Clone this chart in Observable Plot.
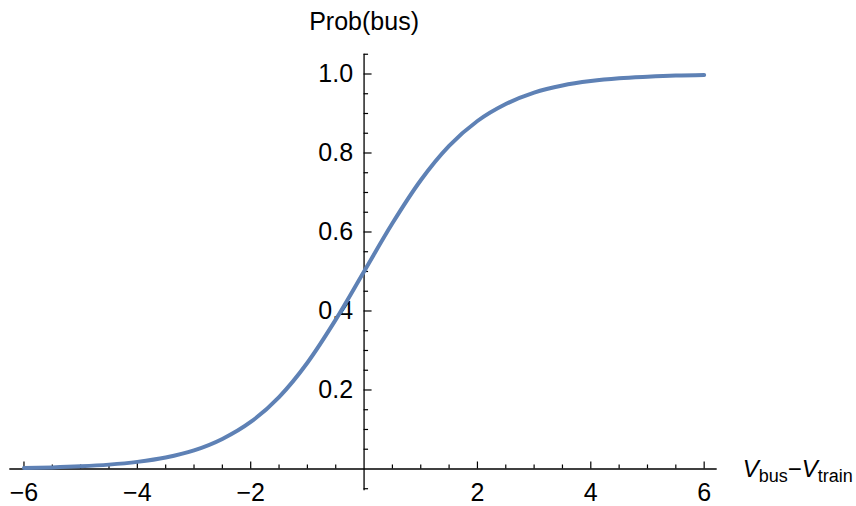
<!DOCTYPE html>
<html>
<head>
<meta charset="utf-8">
<script src="https://cdn.jsdelivr.net/npm/d3@7"></script>
<script src="https://cdn.jsdelivr.net/npm/@observablehq/plot@0.6"></script>
<style>
  html, body { margin: 0; padding: 0; background: #fff; }
  #chart { width: 856px; height: 506px; }
</style>
</head>
<body>
<div id="chart"></div>
<script>
// Utility difference V_bus - V_train
const vDiff = [-6, -5.5, -5, -4.5, -4, -3.5, -3, -2.5, -2, -1.5, -1, -0.5, 0,
               0.5, 1, 1.5, 2, 2.5, 3, 3.5, 4, 4.5, 5, 5.5, 6];
// Prob(bus)
const probBus = [0.0025, 0.004, 0.0067, 0.011, 0.018, 0.029, 0.047, 0.076, 0.119, 0.182, 0.269, 0.378, 0.5,
                 0.622, 0.731, 0.818, 0.881, 0.924, 0.953, 0.971, 0.982, 0.989, 0.993, 0.996, 0.9975];

const xMajorTicks = [-6, -4, -2, 2, 4, 6];
const xMinorTicks = [-5.5, -5, -4.5, -3.5, -3, -2.5, -1.5, -1, -0.5, 0.5, 1, 1.5, 2.5, 3, 3.5, 4.5, 5, 5.5];
const xTickLabels = ["−6", "−4", "−2", "2", "4", "6"];
const yMajorTicks = [0.2, 0.4, 0.6, 0.8, 1.0];
const yMinorTicks = [-0.05, 0.05, 0.1, 0.15, 0.25, 0.3, 0.35, 0.45, 0.5, 0.55, 0.65, 0.7, 0.75, 0.85, 0.9, 0.95, 1.05];
const yTickLabels = ["0.2", "0.4", "0.6", "0.8", "1.0"];
const yTitle = "Prob(bus)";

const data = vDiff.map((v, i) => ({v, p: probBus[i]}));

const xDomain = [-6.25, 6.23], xRange = [9.3, 716.7];
const yDomain = [-0.055, 1.05], yRange = [490.2, 53.75];
const yPerPx = (yDomain[1] - yDomain[0]) / (yRange[0] - yRange[1]);
const xPerPx = (xDomain[1] - xDomain[0]) / (xRange[1] - xRange[0]);

const font = "'Liberation Sans', Arial, Helvetica, sans-serif";
const axisColor = "#000";
const lineColor = "#5e81b5";

const plot = Plot.plot({
  width: 856,
  height: 506,
  marginTop: 0, marginRight: 0, marginBottom: 0, marginLeft: 0,
  style: {fontFamily: font, background: "#fff", overflow: "visible"},
  x: {domain: xDomain, range: xRange, axis: null},
  y: {domain: yDomain, range: yRange, axis: null},
  marks: [
    // axes lines
    Plot.ruleY([0], {x1: xDomain[0], x2: xDomain[1], stroke: axisColor, strokeWidth: 1.3}),
    Plot.ruleX([0], {y1: yDomain[0], y2: yDomain[1], stroke: axisColor, strokeWidth: 1.3}),
    // x ticks (pointing up)
    Plot.ruleX(xMajorTicks, {x: d => d, y1: 0, y2: 7 * yPerPx, stroke: axisColor, strokeWidth: 1.2}),
    Plot.ruleX(xMinorTicks, {x: d => d, y1: 0, y2: 4 * yPerPx, stroke: axisColor, strokeWidth: 1.2}),
    // y ticks (pointing right)
    Plot.ruleY(yMajorTicks, {y: d => d, x1: 0, x2: 8 * xPerPx, stroke: axisColor, strokeWidth: 1.2}),
    Plot.ruleY(yMinorTicks, {y: d => d, x1: 0, x2: 4.5 * xPerPx, stroke: axisColor, strokeWidth: 1.2}),
    // tick labels
    Plot.text(xMajorTicks, {x: d => d, y: 0, dy: 24, text: (d, i) => xTickLabels[i],
      fontSize: 25, fill: "#000", textAnchor: "middle"}),
    Plot.text(yMajorTicks, {x: 0, y: d => d, dx: -11, text: (d, i) => yTickLabels[i],
      fontSize: 25, fill: "#000", textAnchor: "end"}),
    // y title
    Plot.text([yTitle], {x: 0, y: yDomain[1], dy: -32, text: d => d, fontSize: 25, fill: "#000"}),
    // curve
    Plot.line(data, {x: "v", y: "p", stroke: lineColor, strokeWidth: 4, curve: "monotone-x"})
  ]
});

document.getElementById("chart").appendChild(plot);

// x axis title with subscripts
const sx = plot.scale("x");
const sy = plot.scale("y");
const svg = d3.select(plot);
const t = svg.append("text")
  .attr("x", sx.apply(xDomain[1]) + 26)
  .attr("y", sy.apply(0) + 9)
  .attr("text-anchor", "start")
  .attr("font-family", font)
  .attr("font-size", 24)
  .attr("fill", "#000");
t.append("tspan").attr("font-style", "italic").text("V");
t.append("tspan").attr("font-size", 18).attr("dy", 5).text("bus");
t.append("tspan").attr("dy", -5).text("−");
t.append("tspan").attr("font-style", "italic").text("V");
t.append("tspan").attr("font-size", 18).attr("dy", 5).text("train");
</script>
</body>
</html>
